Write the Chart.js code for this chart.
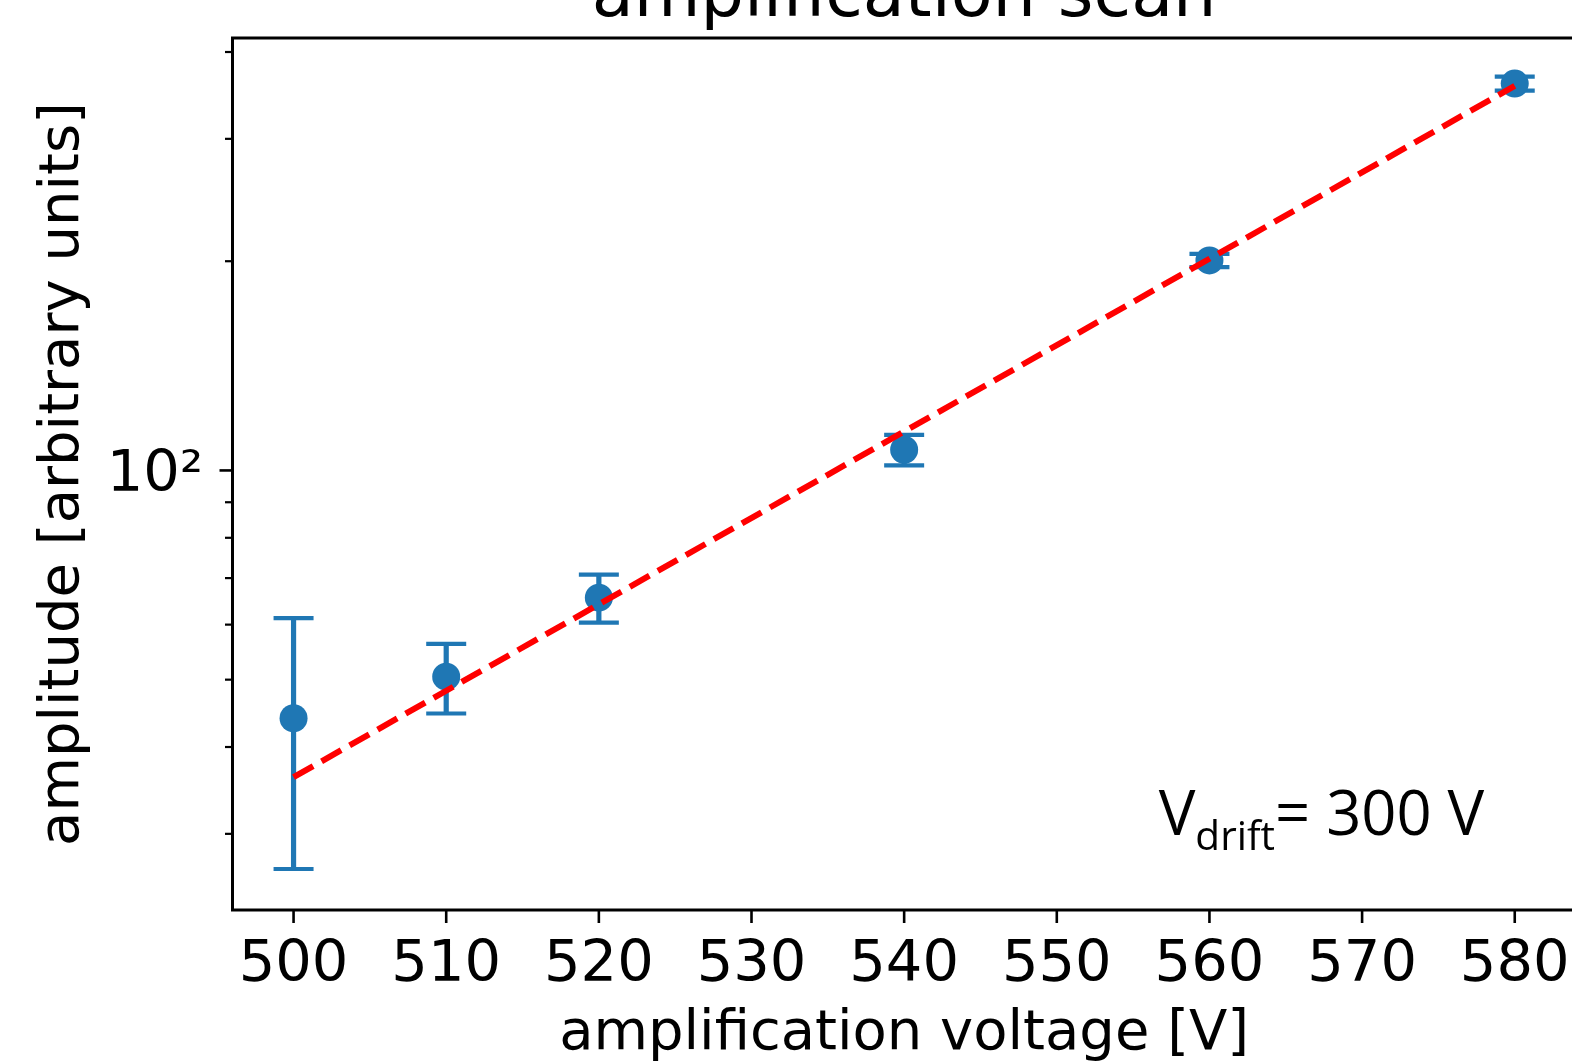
<!DOCTYPE html>
<html>
<head>
<meta charset="utf-8">
<script src="https://cdn.jsdelivr.net/npm/chart.js@4.4.1/dist/chart.umd.min.js"></script>
<style>
html, body { margin: 0; padding: 0; background: #ffffff; overflow: hidden; width: 1572px; height: 1061px; }
#wrap { position: absolute; left: 0; top: 0; width: 1600px; height: 1100px; }
canvas { display: block; }
</style>
</head>
<body>
<div id="wrap"><canvas id="chart" width="1600" height="1100"></canvas></div>
<script>
// ---- data ----
const voltages = [500, 510, 520, 540, 560, 580];
const amplitudes = [44.0, 50.5, 65.6, 107.1, 200.5, 360.3];
const amplitudeErrors = [17.3, 5.8, 5.2, 5.4, 4.4, 8.3];
const fitVoltages = [500, 580];
const fitAmplitudes = [36.2, 357.5];
const xTickValues = [500, 510, 520, 530, 540, 550, 560, 570, 580];
const xTickLabels = ['500', '510', '520', '530', '540', '550', '560', '570', '580'];
const yMajorTicks = [100];
const yMajorLabels = ['10²'];
const yMinorTicks = [30, 40, 50, 60, 70, 80, 90, 200, 300, 400];

const titleText = 'amplification scan';
const xTitle = 'amplification voltage [V]';
const yTitle = 'amplitude [arbitrary units]';
const noteMain = 'V';
const noteSub = 'drift';
const noteRest = '= 300 V';

// ---- derived datasets ----
const pointData = voltages.map((v, i) => ({ x: v, y: amplitudes[i] }));
const errorData = [];
voltages.forEach((v, i) => {
  errorData.push({ x: v, y: amplitudes[i] - amplitudeErrors[i] });
  errorData.push({ x: v, y: amplitudes[i] + amplitudeErrors[i] });
  errorData.push({ x: v, y: null });
});
const fitData = fitVoltages.map((v, i) => ({ x: v, y: fitAmplitudes[i] }));

const BLUE = '#1f77b4';
const TICK_FONT = { family: 'DejaVu Sans', size: 57.5 };
const YTICK_FONT = { family: 'DejaVu Sans', size: 57.5, lineHeight: 0.2 };
const LABEL_FONT = { family: 'DejaVu Sans', size: 56 };

const framePlugin = {
  id: 'frame',
  afterDraw(chart) {
    const ctx = chart.ctx;
    const a = chart.chartArea;
    const xs = chart.scales.x;
    const ys = chart.scales.y;
    ctx.save();
    ctx.strokeStyle = '#000';
    ctx.lineWidth = 3;
    ctx.strokeRect(a.left, a.top, a.right - a.left, a.bottom - a.top);
    // x ticks
    ctx.lineWidth = 2.6;
    xTickValues.forEach(v => {
      const px = xs.getPixelForValue(v);
      ctx.beginPath();
      ctx.moveTo(px, a.bottom);
      ctx.lineTo(px, a.bottom + 13);
      ctx.stroke();
    });
    // y major ticks
    yMajorTicks.forEach(v => {
      const py = ys.getPixelForValue(v);
      ctx.beginPath();
      ctx.moveTo(a.left, py);
      ctx.lineTo(a.left - 13, py);
      ctx.stroke();
    });
    // y minor ticks
    ctx.lineWidth = 2.2;
    yMinorTicks.forEach(v => {
      const py = ys.getPixelForValue(v);
      ctx.beginPath();
      ctx.moveTo(a.left, py);
      ctx.lineTo(a.left - 7.5, py);
      ctx.stroke();
    });
    // title (partly above the visible page, as in the reference)
    ctx.fillStyle = '#000';
    ctx.font = '68.5px "DejaVu Sans"';
    ctx.textAlign = 'center';
    ctx.textBaseline = 'alphabetic';
    ctx.fillText(titleText, (a.left + a.right) / 2, 16);
    // annotation
    const w = a.right - a.left, h = a.bottom - a.top;
    let nx = a.left + 0.6895 * w;
    const ny = a.bottom - 0.086 * h;
    ctx.textAlign = 'left';
    ctx.font = '61.5px "Open Sans"';
    ctx.fillText(noteMain, nx, ny);
    nx += ctx.measureText(noteMain).width;
    ctx.font = '40.5px "Open Sans"';
    ctx.fillText(noteSub, nx, ny + 15);
    nx += ctx.measureText(noteSub).width;
    ctx.font = '61.5px "Open Sans"';
    ctx.fillText(noteRest, nx, ny);
    ctx.restore();
  }
};

new Chart(document.getElementById('chart'), {
  data: {
    datasets: [
      {
        type: 'line',
        label: 'fit',
        data: fitData,
        borderColor: '#ff0000',
        borderWidth: 6,
        borderDash: [22.5, 9.7],
        borderCapStyle: 'butt',
        pointRadius: 0,
        fill: false,
        order: 0
      },
      {
        type: 'scatter',
        label: 'amplitude',
        data: pointData,
        backgroundColor: BLUE,
        borderColor: BLUE,
        borderWidth: 0,
        pointRadius: 14,
        pointHoverRadius: 14,
        order: 1
      },
      {
        type: 'line',
        label: 'errors',
        data: errorData,
        borderColor: BLUE,
        borderWidth: 5.2,
        spanGaps: false,
        fill: false,
        pointStyle: 'line',
        pointRadius: 20,
        pointHoverRadius: 20,
        pointBorderWidth: 4.2,
        pointBorderColor: BLUE,
        pointBackgroundColor: BLUE,
        order: 2
      }
    ]
  },
  options: {
    responsive: false,
    devicePixelRatio: 1,
    animation: false,
    events: [],
    layout: { padding: { top: 38, left: 0, right: 24, bottom: 0 } },
    plugins: {
      legend: { display: false },
      tooltip: { enabled: false },
      title: { display: false }
    },
    scales: {
      x: {
        type: 'linear',
        min: 496,
        max: 584,
        afterBuildTicks: s => { s.ticks = xTickValues.map(v => ({ value: v })); },
        afterFit: s => { s.height = 190; },
        ticks: {
          font: TICK_FONT,
          color: '#000',
          padding: 21.4,
          maxRotation: 0,
          autoSkip: false,
          callback: (v) => { const i = xTickValues.indexOf(v); return i >= 0 ? xTickLabels[i] : ''; }
        },
        grid: { display: false, drawTicks: false },
        border: { display: false },
        title: {
          display: true,
          text: xTitle,
          font: LABEL_FONT,
          color: '#000',
          padding: { top: 0, bottom: 32.4 }
        }
      },
      y: {
        type: 'logarithmic',
        min: 23.31,
        max: 419.0,
        afterBuildTicks: s => {
          s.ticks = yMinorTicks.concat(yMajorTicks).sort((p, q) => p - q).map(v => ({ value: v }));
        },
        afterFit: s => { s.width = 232.5; },
        ticks: {
          font: YTICK_FONT,
          color: '#000',
          padding: 29.5,
          labelOffset: 6,
          autoSkip: false,
          callback: (v) => { const i = yMajorTicks.indexOf(v); return i >= 0 ? yMajorLabels[i] : ''; }
        },
        grid: { display: false, drawTicks: false },
        border: { display: false },
        title: {
          display: true,
          text: yTitle,
          font: LABEL_FONT,
          color: '#000',
          padding: { top: 29.8, bottom: 0 }
        }
      }
    }
  },
  plugins: [framePlugin]
});
</script>
</body>
</html>
